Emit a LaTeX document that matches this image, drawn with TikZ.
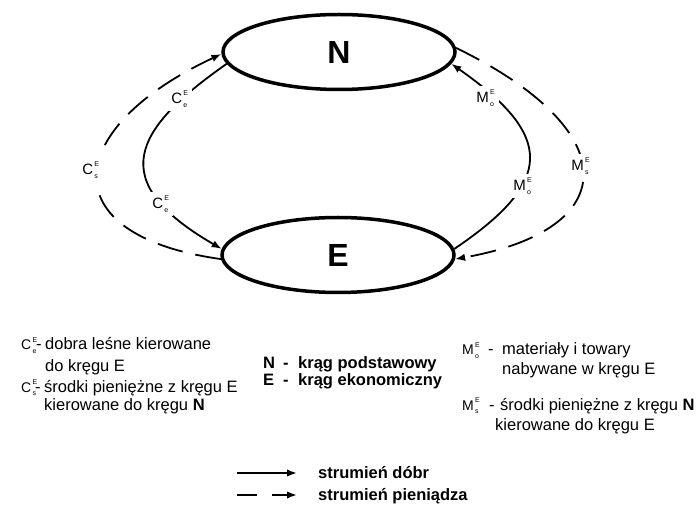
\documentclass[tikz,border=0pt]{standalone}
\usepackage{fontspec}
\setmainfont{Liberation Sans}
\usetikzlibrary{arrows.meta,shapes.geometric}

% symbol with stacked subscript and superscript
\newcommand\idx[3]{#1\kern1.2pt\makebox[0pt][l]{\raisebox{0.55em}{\fontsize{7}{7}\selectfont #3}}\makebox[0.36em][l]{\raisebox{-0.25em}{\fontsize{7}{7}\selectfont #2}}}

\begin{document}
\begin{tikzpicture}[x=1pt,y=-1pt,
  circ/.style={ellipse, draw, line width=3.5pt, minimum width=232pt, minimum height=75pt,
    inner sep=0pt, font=\fontsize{32}{32}\selectfont\bfseries},
  good/.style={line width=1.8pt, -{Latex[length=10pt,width=7.5pt]}},
  money/.style={good, dash pattern=on 26pt off 13pt},
  lab/.style={fill=white, inner sep=3.5pt, font=\fontsize{15}{15}\selectfont},
  sym/.style={inner sep=0pt, anchor=base west, font=\fontsize{14}{16}\selectfont},
  txt/.style={inner sep=0pt, anchor=base west, font=\fontsize{16.5}{18}\selectfont},
  btxt/.style={txt, font=\fontsize{16.5}{18}\selectfont\bfseries}]
\useasboundingbox (0,0) rectangle (697,505);

% the two circuits
\node[circ] (N) at (339,52) {N};
\node[circ] (E) at (338,255) {E};

% flows between the circuits
\draw[good]  (N.186) .. controls +(215:115pt) and +(150:135pt) .. (E.177);
\draw[money] (E.182) .. controls +(172:174pt) and +(205:174pt) .. (N.181);
\draw[good]  (E.3)   .. controls +(34:122pt)  and +(-35:125pt) .. (N.354);
\draw[money] (N.2)   .. controls +(-26:188pt) and +(10:172pt)  .. (E.358);

% flow labels
\node[lab] (ce1) at (180,99)  {\idx{C}{e}{E}};
\node[lab] (ce2) at (161,204) {\idx{C}{e}{E}};
\node[lab, inner sep=6.5pt] (cs) at (91,170) {\idx{C}{s}{E}};
\node[lab] (mo1) at (486,98)  {\idx{M}{o}{E}};
\node[lab] (mo2) at (523,186) {\idx{M}{o}{E}};
\node[lab] (ms)  at (581,166) {\idx{M}{s}{E}};

% legend, left column
\node[sym] (l1a) at (21,350) {\idx{C}{e}{E}};
\node[txt] (l1b) at (36,350) {-};
\node[txt] (l1c) at (45,350) {dobra leśne kierowane};
\node[txt] (l1d) at (45,372) {do kręgu E};
\node[sym] (l2a) at (21,392) {\idx{C}{s}{E}};
\node[txt] (l2b) at (35,392) {-};
\node[txt] (l2c) at (44,392) {środki pieniężne z kręgu E};
\node[txt] (l2d) at (44,410) {kierowane do kręgu \textbf{N}};

% legend, middle
\node[btxt] (k1a) at (263,369) {N};
\node[btxt] (k1b) at (283,369) {-};
\node[btxt] (k1c) at (298,369) {krąg podstawowy};
\node[btxt] (k2a) at (263,386) {E};
\node[btxt] (k2b) at (283,386) {-};
\node[btxt] (k2c) at (298,386) {krąg ekonomiczny};

% legend, right column
\node[sym] (r1a) at (462,355) {\idx{M}{o}{E}};
\node[txt] (r1b) at (488,355) {-};
\node[txt] (r1c) at (502,355) {materiały i towary};
\node[txt] (r1d) at (502,375) {nabywane w kręgu E};
\node[sym] (r2a) at (462,410) {\idx{M}{s}{E}};
\node[txt] (r2b) at (489,410) {-};
\node[txt] (r2c) at (500,410) {środki pieniężne z kręgu \textbf{N}};
\node[txt] (r2d) at (495,430) {kierowane do kręgu E};

% line styles
\coordinate (g1) at (237,473);
\coordinate (g2) at (297,473);
\coordinate (m1) at (237,495);
\coordinate (m2) at (297,495);
\draw[good, line width=2.2pt] (g1) -- (g2);
\draw[good, line width=2.2pt, dash pattern=on 20pt off 15pt] (m1) -- (m2);
\node[btxt] (s1) at (318,478) {strumień dóbr};
\node[btxt] (s2) at (318,500) {strumień pieniądza};
\end{tikzpicture}
\end{document}
